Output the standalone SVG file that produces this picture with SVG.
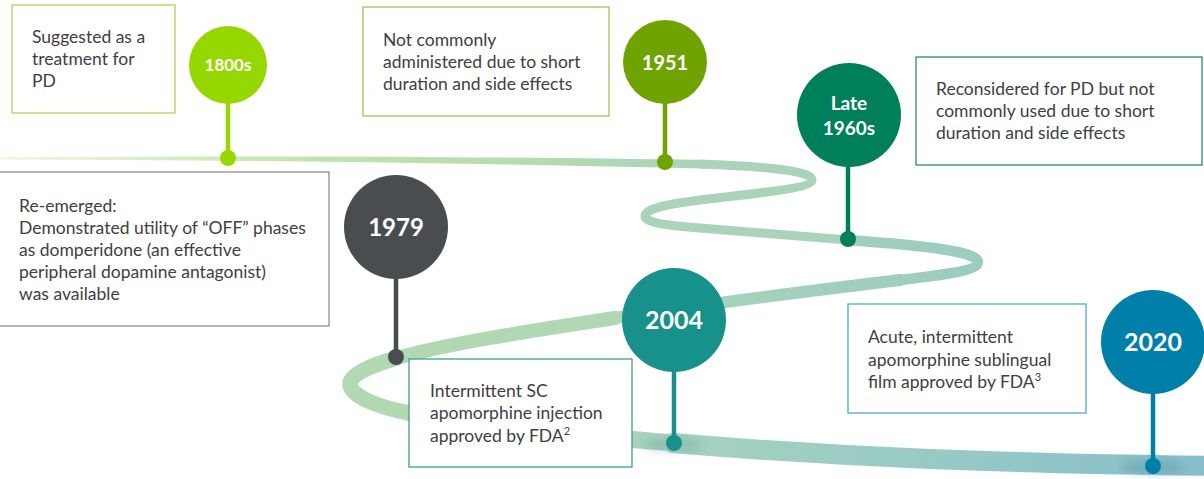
<svg xmlns="http://www.w3.org/2000/svg" width="1204" height="479" viewBox="0 0 1204 479">
<style>
  .box{fill:#fff;stroke-width:1.3}
  .txt{font-family:Lato,"Noto Sans","Liberation Sans",sans-serif;font-size:17.5px;fill:#404040}
  .yr{font-family:Lato,"Noto Sans","Liberation Sans",sans-serif;font-weight:bold;fill:#fff;text-anchor:middle}
  .road{fill:none;stroke-linecap:round;stroke-linejoin:round}
</style>
<defs>
  <linearGradient id="gA" gradientUnits="userSpaceOnUse" x1="0" y1="0" x2="710" y2="0">
    <stop offset="0" stop-color="#eef6e2"/>
    <stop offset="0.45" stop-color="#c3e2ac"/>
    <stop offset="1" stop-color="#a9d4b9"/>
  </linearGradient>
  <linearGradient id="gE" gradientUnits="userSpaceOnUse" x1="400" y1="0" x2="1204" y2="0">
    <stop offset="0" stop-color="#b4d9b1"/>
    <stop offset="0.35" stop-color="#a5d1bf"/>
    <stop offset="0.7" stop-color="#96c9c6"/>
    <stop offset="1" stop-color="#86bfcb"/>
  </linearGradient>
  <linearGradient id="gC" gradientUnits="userSpaceOnUse" x1="980" y1="0" x2="610" y2="0">
    <stop offset="0" stop-color="#9ccbc1"/>
    <stop offset="1" stop-color="#a9d5b8"/>
  </linearGradient>
  <filter id="blur" x="-50%" y="-50%" width="200%" height="200%"><feGaussianBlur stdDeviation="5"/></filter>
</defs>

<g id="connectors">
  <path d="M0,157.2 C250,155.5 500,156.5 705,160 L705,168.5 C500,163.5 250,160 0,159.6 Z" fill="url(#gA)"/>
  <path class="road" stroke="#a9d4ba" stroke-width="9" d="M700,164 C780,167 812,172 812,180 C812,188 760,193 700,200 C660,205 645,210 645,216 C645,222 660,225 700,228 C760,233 800,236 848,240"/>
  <path class="road" stroke="url(#gC)" stroke-width="10.5" d="M848,240 C930,246 978,252 978,262 C978,270 950,274 900,280"/>
  <path class="road" stroke="url(#gC)" stroke-width="12" d="M900,280 C800,292 700,305 615,318"/>
  <path class="road" stroke="#b1d8b3" stroke-width="14" d="M615,318 C530,331 450,343 397,358"/>
  <path class="road" stroke="#b2d9b2" stroke-width="15.5" d="M397,358 C365,367 350,376 350,384 C350,395 375,407 410,413"/>
  <path class="road" stroke="url(#gE)" stroke-width="17" d="M410,413 C480,426 560,433 673,443"/>
  <path class="road" stroke="url(#gE)" stroke-width="20" d="M673,443 C850,458 1000,463 1220,466"/>
  <ellipse cx="673" cy="445" rx="30" ry="6" fill="#4f8f8a" opacity="0.3" filter="url(#blur)"/>
  <ellipse cx="1153" cy="467" rx="32" ry="7" fill="#3f7f92" opacity="0.3" filter="url(#blur)"/>
</g>

<g id="n1800s">
  <rect class="box" x="12" y="5" width="163" height="108" stroke="#a9d662"/>
  <text class="txt" x="32"><tspan y="43">Suggested as a</tspan><tspan x="32" y="65">treatment for</tspan><tspan x="32" y="87">PD</tspan></text>
  <line x1="228" y1="90" x2="228" y2="158" stroke="#97d700" stroke-width="4.5"/>
  <circle cx="228" cy="158" r="8" fill="#97d700"/>
  <circle cx="228" cy="65" r="39" fill="#97d700"/>
  <text class="yr" x="228" y="71" font-size="17">1800s</text>
</g>

<g id="n1951">
  <rect class="box" x="363" y="7" width="246" height="109" stroke="#9dc35b"/>
  <text class="txt" x="383"><tspan y="46">Not commonly</tspan><tspan x="383" y="68">administered due to short</tspan><tspan x="383" y="90">duration and side effects</tspan></text>
  <line x1="665" y1="90" x2="665" y2="162" stroke="#6fa300" stroke-width="4.5"/>
  <circle cx="665" cy="162" r="8" fill="#6fa300"/>
  <circle cx="665" cy="62" r="42" fill="#6fa300"/>
  <text class="yr" x="665" y="70" font-size="20">1951</text>
</g>

<g id="nLate1960s">
  <rect class="box" x="916" y="57" width="286" height="108" stroke="#2e8b67"/>
  <text class="txt" x="936"><tspan y="95">Reconsidered for PD but not</tspan><tspan x="936" y="117">commonly used due to short</tspan><tspan x="936" y="139">duration and side effects</tspan></text>
  <line x1="848" y1="150" x2="848" y2="239" stroke="#00805a" stroke-width="4.5"/>
  <circle cx="848" cy="239" r="8" fill="#00805a"/>
  <circle cx="849" cy="115" r="52" fill="#00805a"/>
  <text class="yr" x="849" y="110" font-size="19">Late</text>
  <text class="yr" x="849" y="135" font-size="19">1960s</text>
</g>

<g id="n1979">
  <rect class="box" x="-1" y="172" width="330" height="154" stroke="#8e9092"/>
  <text class="txt" x="19"><tspan y="212">Re-emerged:</tspan><tspan x="19" y="234">Demonstrated utility of “OFF” phases</tspan><tspan x="19" y="256">as domperidone (an effective</tspan><tspan x="19" y="278">peripheral dopamine antagonist)</tspan><tspan x="19" y="300">was available</tspan></text>
  <line x1="396" y1="260" x2="396" y2="357" stroke="#4a4d50" stroke-width="4.5"/>
  <circle cx="396" cy="357" r="8" fill="#4a4d50"/>
  <circle cx="396" cy="227" r="52" fill="#4a4d50"/>
  <text class="yr" x="396" y="236" font-size="24">1979</text>
</g>

<g id="n2004">
  <rect class="box" x="409" y="359" width="223" height="108" stroke="#3a9e98"/>
  <text class="txt" x="430"><tspan y="397">Intermittent SC</tspan><tspan x="430" y="419">apomorphine injection</tspan><tspan x="430" y="442">approved by FDA<tspan font-size="11" dy="-7">2</tspan></tspan></text>
  <line x1="674" y1="350" x2="674" y2="443" stroke="#17918a" stroke-width="4.5"/>
  <circle cx="674" cy="443" r="8" fill="#17918a"/>
  <circle cx="674" cy="320" r="52" fill="#17918a"/>
  <text class="yr" x="674" y="329" font-size="25">2004</text>
</g>

<g id="n2020">
  <rect class="box" x="848" y="304" width="238" height="109" stroke="#4fa9c9"/>
  <text class="txt" x="868"><tspan y="343">Acute, intermittent</tspan><tspan x="868" y="366">apomorphine sublingual</tspan><tspan x="868" y="388">film approved by FDA<tspan font-size="11" dy="-7">3</tspan></tspan></text>
  <line x1="1153" y1="370" x2="1153" y2="466" stroke="#0080a8" stroke-width="4.5"/>
  <circle cx="1153" cy="466" r="8" fill="#0080a8"/>
  <circle cx="1153" cy="342" r="52" fill="#0080a8"/>
  <text class="yr" x="1153" y="351" font-size="25">2020</text>
</g>
</svg>
